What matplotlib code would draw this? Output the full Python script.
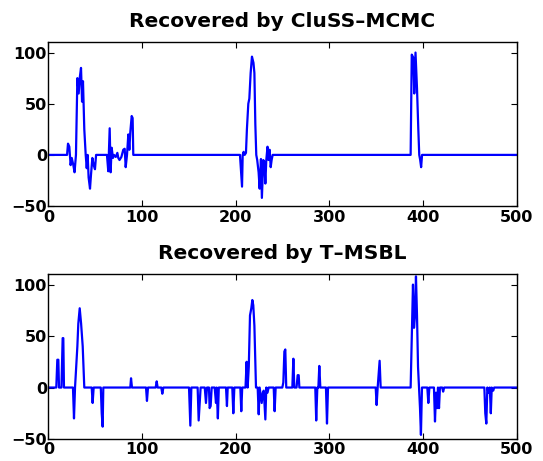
import matplotlib
matplotlib.use("Agg")
import matplotlib.pyplot as plt

# breakpoints (sample index, amplitude)
cluss_x = [0, 20, 21, 22.4, 23.8, 25, 26.7, 28, 29.5, 31, 32.4, 33.5, 34.9, 36, 37, 38.4,
           39.9, 41, 42, 43, 44.5, 45.5, 47, 48.4, 49.8, 51, 62.6, 64, 65.5, 66.5, 67.6,
           69, 70, 72, 73.7, 74.7, 76, 78, 80, 81.5, 82.6, 84, 85.4, 86.5, 87.5, 89, 90,
           90.7, 204.6, 206.8, 207.5, 208.5, 209.6, 211, 212, 213.5, 214.6, 216, 217.4,
           219, 220, 221, 222, 223, 224.5, 225.6, 227, 228, 229.5, 230.6, 231.7, 232.7,
           234, 235, 236.3, 237.4, 238.4, 239.5, 386.8, 388, 389.7, 390.7, 392, 393.6,
           395, 396, 397, 398, 399, 500]
cluss_y = [0, 0, 11, 8, -10, -3, -10, -17, 0, 75, 60, 75, 85, 52, 72, 25,
           0, -13, 0, -22, -33, -20, -3, -10, -14, 0, 0, -16, 26, -17, 7,
           -3, 0, -2, 2, -3, -5, -2, 5, 6, -12, 0, 20, 5, 22, 38, 36,
           0, 0, -31, 0, 3, 0, 2, 25, 50, 55, 80, 96,
           90, 80, 30, 0, -5, -17, -33, -4, -42, -5, -7, -28, -5,
           8, -5, 5, -12, -5, 0, 0, 98, 95, 60, 100, 65,
           25, 0, -5, -12, 0, 0]

tmsbl_x = [0, 8.5, 9.6, 10.7, 11.4, 14, 15.3, 16, 16.7, 26.3, 27.4, 28.5, 31, 32, 33.5,
           35, 36.7, 38.4, 46.3, 47.3, 48.4, 56, 57, 58, 58.7, 87.5, 88.3, 89.3, 104.3,
           105.3, 106.4, 114.6, 115.7, 116.7, 120.6, 121.7, 122.8, 150.2, 151.6, 152.7,
           159.4, 160.5, 161.6, 162.6, 167, 168.3, 169.4, 171.5, 172.2, 173.3, 174.4,
           177.6, 179, 179.7, 181, 182, 189.7, 190.7, 191.5, 196.4, 197.5, 198.6, 205,
           206, 207, 210.5, 211.7, 212.8, 214, 215.3, 216.7, 217.8, 218.8, 220, 221.7,
           223.5, 224.6, 225.6, 227.8, 229, 230, 231.7, 232.7, 234, 235.2, 240.6, 241.6,
           242.7, 249.8, 250.9, 252, 253, 254, 260.5, 261.6, 262.6, 265, 266.2, 267.3,
           268, 285, 286, 287.2, 288.3, 289.3, 290.4, 296.4, 297.5, 298.6, 349.5, 350.5,
           351.6, 352.6, 353.7, 354.8, 386.8, 388.3, 389.3, 390.4, 391.5, 392.5, 393.6,
           394.7, 395.7, 396.8, 397.8, 398.9, 404.6, 405.7, 406.8, 411.7, 412.8, 413.9,
           415, 416, 417.1, 418.1, 420.5, 421.5, 422.6, 465.5, 466.5, 467.6, 468.7, 470,
           471.3, 472.4, 473.4, 475, 476, 500]
tmsbl_y = [0, 0, 27, 27, 0, 0, 48, 48, 0, 0, -30, 0, 40, 62, 77,
           62, 40, 0, 0, -15, 0, 0, -25, -38, 0, 0, 9, 0, 0,
           -13, 0, 0, 6, 0, 0, -6, 0, 0, -37, 0,
           0, -32, -15, 0, 0, -15, 0, 0, -20, -18, 0,
           0, -15, 0, -30, 0, 0, -18, 0, 0, -25, 0, 0,
           -23, 0, 0, 25, 0, 20, 70, 77, 85, 80, 60, 0,
           0, -26, 0, -15, -5, -3, -31, 0, -5, 0, 0, -23,
           0, 0, 5, 35, 37, 0, 0, 28, 0, 0, 12, 12,
           0, 0, -32, 0, 0, 21, 0, 0, -35, 0, 0, -17,
           0, 12, 26, 0, 0, 60, 100, 58, 70, 108, 70,
           20, 0, -20, -46, 0, 0, -15, 0, 0, -33, -5,
           -20, 0, -20, 0, 0, -4, 0, 0, -25, -35, 0, -5,
           0, -25, 0, -3, 0, 0]

titles = ["Recovered by CluSS\u2013MCMC", "Recovered by T\u2013MSBL"]
xticks = [0, 100, 200, 300, 400, 500]
yticks = [-50, 0, 50, 100]

plt.rcParams["font.family"] = ["DejaVu Sans"]
plt.rcParams["font.weight"] = "bold"

fig = plt.figure(figsize=(5.43, 4.61), dpi=100)
ax1 = fig.add_axes([0.089, 0.553, 0.8625, 0.3552])
ax2 = fig.add_axes([0.089, 0.0477, 0.8625, 0.3573])

for ax, xs, ys, title in [(ax1, cluss_x, cluss_y, titles[0]),
                          (ax2, tmsbl_x, tmsbl_y, titles[1])]:
    ax.plot(xs, ys, color="#0000ff", lw=1.6)
    ax.set_xlim(0, 500)
    ax.set_ylim(-50, 110)
    ax.set_xticks(xticks)
    ax.set_yticks(yticks)
    ax.tick_params(direction="in", top=True, right=True, length=4, width=0.8,
                   labelsize=11.5)
    ax.tick_params(axis="y", pad=1)
    ax.tick_params(axis="x", pad=2.5)
    for lab in ax.get_xticklabels() + ax.get_yticklabels():
        lab.set_fontweight("bold")
    for sp in ax.spines.values():
        sp.set_linewidth(1.0)
    ax.set_title(title, fontsize=14.5, fontweight="bold", pad=11)

fig.savefig("out.png", dpi=100)
